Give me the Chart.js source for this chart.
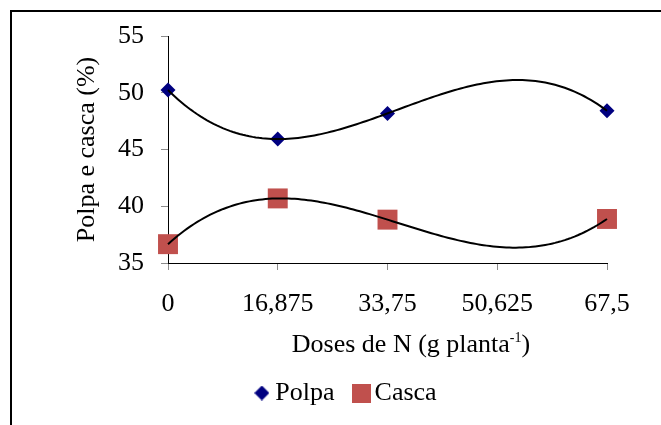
<!DOCTYPE html>
<html>
<head>
<meta charset="utf-8">
<script src="https://cdn.jsdelivr.net/npm/chart.js@4.4.1/dist/chart.umd.min.js"></script>
<style>
  html, body { margin: 0; padding: 0; background: #fff; }
  canvas { display: block; }
</style>
</head>
<body>
<canvas id="grafico" width="661" height="425"></canvas>
<script>
// doses de N (g planta-1) e percentuais medidos
var doses = [0, 16.875, 33.75, 67.5];
var polpa = [50.24, 45.92, 48.18, 48.41];
var casca = [36.66, 40.69, 38.82, 38.88];
var ticksX = [0, 16.875, 33.75, 50.625, 67.5];
var ticksY = [35, 40, 45, 50, 55];

var fonte = '"Liberation Serif", "Times New Roman", serif';
Chart.defaults.font.family = fonte;
Chart.defaults.color = '#000';

// minimos quadrados para um polinomio de grau n (linha de tendencia)
function ajustePolinomio(xs, ys, grau) {
    var n = grau + 1;
    var a = [];
    for (var i = 0; i < n; i++) {
        a.push([]);
        for (var j = 0; j <= n; j++) a[i].push(0);
    }
    for (var k = 0; k < xs.length; k++) {
        for (var i = 0; i < n; i++) {
            for (var j = 0; j < n; j++) a[i][j] += Math.pow(xs[k], i + j);
            a[i][n] += ys[k] * Math.pow(xs[k], i);
        }
    }
    // eliminacao de Gauss
    for (var i = 0; i < n; i++) {
        var p = i;
        for (var r = i + 1; r < n; r++) if (Math.abs(a[r][i]) > Math.abs(a[p][i])) p = r;
        var tmp = a[i]; a[i] = a[p]; a[p] = tmp;
        for (var r = i + 1; r < n; r++) {
            var f = a[r][i] / a[i][i];
            for (var c = i; c <= n; c++) a[r][c] -= f * a[i][c];
        }
    }
    var coef = new Array(n).fill(0);
    for (var i = n - 1; i >= 0; i--) {
        var s = a[i][n];
        for (var c = i + 1; c < n; c++) s -= a[i][c] * coef[c];
        coef[i] = s / a[i][i];
    }
    return coef;
}

function curvaTendencia(xs, ys) {
    var coef = ajustePolinomio(xs, ys, 3);
    var pts = [];
    for (var x = 0; x <= 67.5; x += 0.5) {
        var y = 0;
        for (var i = 0; i < coef.length; i++) y += coef[i] * Math.pow(x, i);
        pts.push({ x: x, y: y });
    }
    return pts;
}

function pares(xs, ys) {
    return xs.map(function (x, i) { return { x: x, y: ys[i] }; });
}

// marcadores da legenda desenhados em canvas pequenos
function marcador(tipo, tam, cor) {
    var c = document.createElement('canvas');
    c.width = tam; c.height = tam;
    var g = c.getContext('2d');
    g.fillStyle = cor;
    if (tipo === 'losango') {
        g.beginPath();
        g.moveTo(tam / 2, 0); g.lineTo(tam, tam / 2); g.lineTo(tam / 2, tam); g.lineTo(0, tam / 2);
        g.closePath(); g.fill();
    } else {
        g.fillRect(0, 0, tam, tam);
    }
    return c;
}

var legPolpa = marcador('losango', 15, '#000080');
var legCasca = marcador('quadrado', 19, '#C0504D');

var extras = {
    id: 'extras',
    beforeDraw: function (chart) {
        var ctx = chart.ctx;
        ctx.save();
        ctx.fillStyle = '#fff';
        ctx.fillRect(0, 0, chart.width, chart.height);
        ctx.strokeStyle = '#000';
        ctx.lineWidth = 2;
        ctx.beginPath();
        ctx.moveTo(11, chart.height);
        ctx.lineTo(11, 11);
        ctx.lineTo(chart.width, 11);
        ctx.stroke();
        ctx.restore();
    },
    afterDraw: function (chart) {
        var ctx = chart.ctx;
        var area = chart.chartArea;
        ctx.save();
        ctx.fillStyle = '#000';
        ctx.font = '26px ' + fonte;
        ctx.textBaseline = 'alphabetic';

        // titulo do eixo y
        ctx.save();
        ctx.translate(94, (area.top + area.bottom) / 2);
        ctx.rotate(-Math.PI / 2);
        ctx.textAlign = 'center';
        ctx.fillText('Polpa e casca (%)', 0, 0);
        ctx.restore();

        // titulo do eixo x com expoente
        var t1 = 'Doses de N (g planta', t2 = '-1', t3 = ')';
        var w1 = ctx.measureText(t1).width;
        var w3 = ctx.measureText(t3).width;
        ctx.font = '14px ' + fonte;
        var w2 = ctx.measureText(t2).width;
        var x = area.left + 243 - (w1 + w2 + w3) / 2;
        var base = area.bottom + 89;
        ctx.textAlign = 'left';
        ctx.font = '26px ' + fonte;
        ctx.fillText(t1, x, base);
        ctx.font = '14px ' + fonte;
        ctx.fillText(t2, x + w1, base - 10);
        ctx.font = '26px ' + fonte;
        ctx.fillText(t3, x + w1 + w2, base);
        ctx.restore();
    }
};

new Chart(document.getElementById('grafico'), {
    type: 'scatter',
    data: {
        datasets: [{
            label: 'tendencia polpa',
            type: 'line',
            data: curvaTendencia(doses, polpa),
            borderColor: '#000',
            borderWidth: 2,
            pointRadius: 0,
            clip: false,
            order: 0
        }, {
            label: 'tendencia casca',
            type: 'line',
            data: curvaTendencia(doses, casca),
            borderColor: '#000',
            borderWidth: 2,
            pointRadius: 0,
            clip: false,
            order: 0
        }, {
            label: 'Polpa',
            data: pares(doses, polpa),
            pointStyle: 'rectRot',
            pointRadius: 7.5,
            pointBorderWidth: 0,
            backgroundColor: '#000080',
            borderColor: '#000080',
            clip: false,
            order: 1
        }, {
            label: 'Casca',
            data: pares(doses, casca),
            pointStyle: 'rect',
            pointRadius: 14.1,
            pointBorderWidth: 0,
            backgroundColor: '#C0504D',
            borderColor: '#C0504D',
            clip: false,
            order: 1
        }]
    },
    options: {
        responsive: false,
        animation: false,
        layout: { padding: { left: 91, right: 54, top: 36, bottom: 9 } },
        plugins: {
            tooltip: { enabled: false },
            legend: {
                position: 'bottom',
                labels: {
                    usePointStyle: true,
                    boxWidth: 1,
                    padding: 26,
                    color: '#000',
                    font: { family: fonte, size: 26 },
                    generateLabels: function () {
                        return [
                            { text: 'Polpa', pointStyle: legPolpa, fillStyle: '#000080', strokeStyle: '#000080', lineWidth: 0, hidden: false, datasetIndex: 2 },
                            { text: 'Casca', pointStyle: legCasca, fillStyle: '#C0504D', strokeStyle: '#C0504D', lineWidth: 0, hidden: false, datasetIndex: 3 }
                        ];
                    }
                }
            }
        },
        scales: {
            x: {
                type: 'linear',
                min: 0,
                max: 67.5,
                afterFit: function (s) { s.height = 91; },
                afterBuildTicks: function (s) { s.ticks = ticksX.map(function (v) { return { value: v }; }); },
                ticks: {
                    padding: 19,
                    color: '#000',
                    font: { family: fonte, size: 26 },
                    callback: function (v) { return String(v).replace('.', ','); }
                },
                grid: { drawOnChartArea: false, tickLength: 7, color: '#8c8c8c', tickColor: '#8c8c8c' },
                border: { color: '#000', width: 1 }
            },
            y: {
                min: 35,
                max: 55,
                afterFit: function (s) { s.width = 77; },
                afterBuildTicks: function (s) { s.ticks = ticksY.map(function (v) { return { value: v }; }); },
                ticks: {
                    padding: 17,
                    color: '#000',
                    font: { family: fonte, size: 26 }
                },
                grid: { drawOnChartArea: false, tickLength: 7, color: '#8c8c8c', tickColor: '#8c8c8c' },
                border: { color: '#000', width: 1 }
            }
        }
    },
    plugins: [extras]
});
</script>
</body>
</html>
